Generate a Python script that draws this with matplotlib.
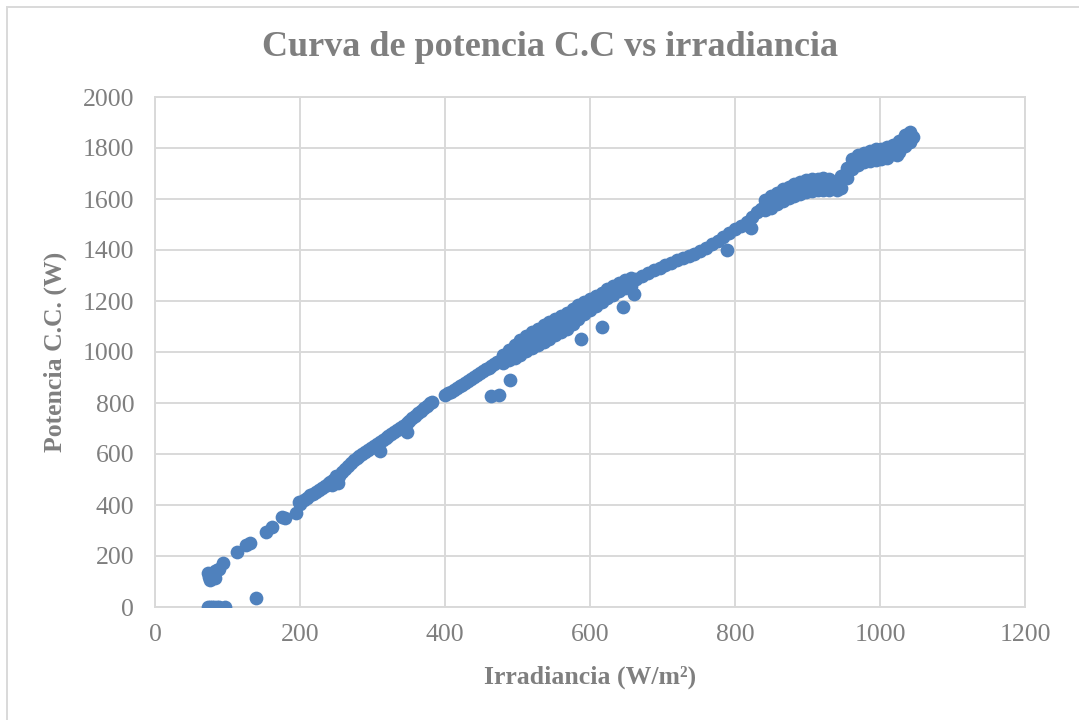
import matplotlib
matplotlib.use('Agg')
import matplotlib.pyplot as plt
from matplotlib.patches import Rectangle

# irradiancia (W/m2) y potencia C.C. (W)
irr_low = [73, 76, 79, 82, 85, 88, 96,
           73, 75, 76, 78, 80, 83, 83, 85, 88, 94,
           139, 113, 126, 131, 153, 161, 175, 179, 195, 199, 200]
pot_low = [0, 0, 0, 0, 0, 0, 0,
           132, 118, 106, 125, 112, 112, 140, 145, 150, 171,
           34, 217, 243, 250, 295, 315, 354, 348, 367, 413, 405]

irr_a = [205, 210, 214, 218, 222, 226, 230, 234, 238, 242, 246, 250, 254,
         258, 262, 266, 270, 274, 278, 282, 286, 290, 294, 298, 302, 306,
         310, 314, 318, 322, 326, 330, 334, 338, 342, 347, 351, 355, 359,
         363, 367, 371, 375, 379, 382]
pot_a = [418, 428, 439, 445, 452, 460, 468, 474, 482, 490, 498, 505, 515,
         528, 540, 552, 565, 576, 584, 592, 600, 608, 617, 625, 632, 640,
         648, 656, 663, 671, 679, 687, 694, 702, 710, 720, 730, 740, 750,
         760, 770, 780, 790, 799, 805]

irr_b = [400, 404, 408, 412, 416, 420, 424, 428, 432, 436, 440, 444, 448,
         452, 456, 460, 464, 468, 472, 476, 480, 488, 496,
         504, 512, 520, 528, 536, 544, 552, 560, 568, 576, 584, 592, 600,
         608, 616, 624, 632, 640, 648, 656, 664, 672, 680, 688, 696, 704,
         712, 720, 728, 736, 744, 752, 760, 768, 776, 784, 792, 800, 808,
         816, 824, 830, 836, 842, 848, 854, 860, 866, 872, 878, 884, 890,
         896, 902, 908, 914, 920, 926, 932, 938, 944, 950, 956, 962, 968,
         974, 980, 986, 992, 998, 1004, 1010, 1016, 1022, 1028, 1033, 1038,
         1042, 1046]
pot_b = [831, 838, 845, 851, 858, 865, 872, 880, 888, 896, 903, 910, 917,
         924, 932, 939, 946, 953, 960, 966, 973, 987, 1002,
         1018, 1034, 1046, 1058, 1072, 1085, 1098, 1110, 1122, 1140, 1160,
         1174, 1186, 1200, 1214, 1228, 1242, 1255, 1266, 1276, 1287, 1298,
         1310, 1320, 1331, 1340, 1350, 1360, 1368, 1377, 1386, 1395, 1408,
         1422, 1437, 1452, 1467, 1481, 1496, 1511, 1530, 1548, 1562, 1575,
         1586, 1597, 1607, 1615, 1622, 1630, 1637, 1642, 1648, 1653, 1656,
         1658, 1660, 1660, 1655, 1652, 1668, 1688, 1710, 1735, 1752, 1760,
         1765, 1770, 1772, 1776, 1778, 1782, 1788, 1795, 1812, 1830, 1840,
         1842, 1845]

# borde superior e inferior de la banda
irr_up = [240, 250,
          480, 488, 496, 504, 512, 520, 528, 536, 544, 552, 560,
          568, 576, 584, 592, 600, 608, 616, 624, 632, 640, 648, 656,
          842, 850, 858, 866, 874, 882, 890, 898, 906, 914, 922, 930, 946,
          954, 962, 970, 978, 986, 994, 1002, 1010, 1018, 1026, 1034, 1042]
pot_up = [488, 512,
          990, 1007, 1026, 1046, 1064, 1078, 1092, 1106, 1118,
          1130, 1142, 1154, 1168, 1184, 1196, 1206, 1218, 1232, 1246, 1260,
          1272, 1283, 1292,
          1595, 1610, 1625, 1638, 1648, 1658, 1666, 1674, 1678, 1680, 1682,
          1678, 1690, 1722, 1755, 1772, 1782, 1790, 1795, 1798, 1802, 1810,
          1828, 1852, 1862]
irr_dn = [244, 252,
          480, 488, 496, 504, 512, 520, 528, 536, 544, 552, 560,
          568, 576, 584, 592, 600, 608, 616, 624, 632, 640, 648, 656,
          842, 850, 858, 866, 874, 882, 890, 898, 906, 914, 922, 930, 946,
          954, 962, 970, 978, 986, 994, 1002, 1010, 1018, 1026, 1034, 1042]
pot_dn = [478, 488,
          955, 967, 978, 990, 1004, 1014, 1026, 1040, 1052, 1066,
          1078, 1092, 1110, 1130, 1148, 1164, 1180, 1196, 1210, 1224, 1238,
          1250, 1260,
          1555, 1566, 1582, 1594, 1604, 1612, 1620, 1626, 1630, 1634, 1636,
          1636, 1645, 1682, 1718, 1735, 1745, 1750, 1752, 1755, 1762, 1775,
          1785, 1808, 1822]

irr_out = [310, 347, 464, 475, 490, 587, 617, 646, 660, 789, 822, 940, 1023]
pot_out = [610, 687, 829, 831, 890, 1050, 1099, 1178, 1226, 1400, 1485,
           1635, 1772]

irr = irr_low + irr_a + irr_b + irr_up + irr_dn + irr_out
pot = pot_low + pot_a + pot_b + pot_up + pot_dn + pot_out

grey = '#7F7F7F'
grid = '#D9D9D9'
plt.rcParams['font.family'] = ['Liberation Serif', 'DejaVu Serif']

fig = plt.figure(figsize=(10.79, 7.2), dpi=100)
ax = fig.add_axes([155 / 1079, 1 - 607 / 720, 870 / 1079, 510 / 720])

ax.scatter(irr, pot, s=98, color='#4F81BD', linewidths=0, zorder=3)

ax.set_xlim(0, 1200)
ax.set_ylim(0, 2000)
ax.set_xticks(range(0, 1201, 200))
ax.set_yticks(range(0, 2001, 200))
ax.grid(True, color=grid, linewidth=1.4)
ax.set_axisbelow(True)
for sp in ax.spines.values():
    sp.set_color(grid)
    sp.set_linewidth(1.4)
ax.tick_params(length=0, labelsize=18.5, labelcolor=grey)
ax.tick_params(axis='x', pad=12)
ax.tick_params(axis='y', pad=15)

ax.set_xlabel('Irradiancia (W/m²)', fontsize=18.5, fontweight='bold', color=grey)
ax.xaxis.set_label_coords(0.5, -0.115)
ax.set_ylabel('Potencia C.C. (W)', fontsize=18.5, fontweight='bold', color=grey)
ax.yaxis.set_label_coords(-0.101, 0.5)

fig.text(550 / 1079, 1 - 47 / 720, 'Curva de potencia C.C vs irradiancia',
         ha='center', va='center', fontsize=26, fontweight='bold', color=grey)

# borde del area del grafico
fig.patches.append(Rectangle((7 / 1079, -20 / 720), 1.05, (720 - 7 + 20) / 720,
                             transform=fig.transFigure, fill=False,
                             edgecolor=grid, linewidth=1.4))

fig.savefig('out.png', dpi=100)
